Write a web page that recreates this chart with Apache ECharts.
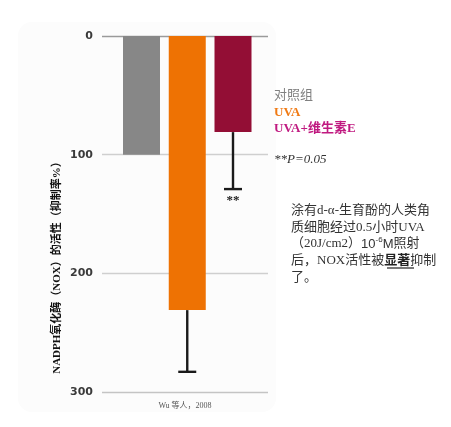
<!DOCTYPE html>
<html>
<head>
<meta charset="utf-8">
<script src="https://cdn.jsdelivr.net/npm/echarts@6/dist/echarts.min.js"></script>
<style>
  html, body { margin: 0; padding: 0; background: #fff; }
  #main { width: 451px; height: 427px; }
</style>
</head>
<body>
<div id="main"></div>
<script>
// 数据
var categories = ['对照组', 'UVA', 'UVA+维生素E']
var values = [100, 231, 81]
var errorTops = [null, 283, 129]
var errorMarks = ['', '', '**']
var barColors = ['#878787', '#ee7203', '#930e35']
var yTicks = [0, 100, 200, 300]

var chart = echarts.init(document.getElementById('main'))

var barData = values.map(function (v, i) {
  return { value: [i + 1, v], itemStyle: { color: barColors[i] } }
})
var errData = []
values.forEach(function (v, i) {
  if (errorTops[i] !== null) errData.push([i + 1, v, errorTops[i], errorMarks[i]])
})

var serif = "'Liberation Serif', 'Noto Sans CJK SC', serif"
var cjk = "'Liberation Serif', 'Noto Sans CJK SC', sans-serif"

var option = {
  animation: false,
  grid: { left: 102, right: 183, top: 36, bottom: 35 },
  xAxis: {
    type: 'value',
    min: 0.1366,
    max: 3.765,
    show: false
  },
  yAxis: {
    type: 'value',
    inverse: true,
    min: yTicks[0],
    max: yTicks[yTicks.length - 1],
    interval: 100,
    axisLine: { show: false },
    axisTick: { show: false },
    axisLabel: {
      margin: 9,
      color: '#3a3a3a',
      fontWeight: 'bold',
      fontSize: 11,
      fontFamily: "'DejaVu Sans', sans-serif"
    },
    splitLine: { lineStyle: { color: ['#9a9a9a', '#cfcfcf', '#cfcfcf', '#c4c4c4'], width: 1.3 } }
  },
  series: [
    {
      type: 'bar',
      barWidth: 37,
      data: barData,
      z: 2
    },
    {
      type: 'custom',
      z: 3,
      data: errData,
      renderItem: function (params, api) {
        var x = api.value(0)
        var p0 = api.coord([x, api.value(1)])
        var p1 = api.coord([x, api.value(2)])
        var half = 9
        var children = [
          { type: 'line', shape: { x1: p0[0], y1: p0[1], x2: p1[0], y2: p1[1] }, style: { stroke: '#1a1a1a', lineWidth: 2.4 } },
          { type: 'line', shape: { x1: p1[0] - half, y1: p1[1], x2: p1[0] + half, y2: p1[1] }, style: { stroke: '#1a1a1a', lineWidth: 2.4 } }
        ]
        var mark = api.value(3)
        if (mark) {
          children.push({
            type: 'text',
            x: p1[0],
            y: p1[1] + 5,
            style: { text: mark, fill: '#222', font: 'bold 13px ' + serif, align: 'center', verticalAlign: 'top' }
          })
        }
        return { type: 'group', children: children }
      }
    }
  ],
  graphic: [
    {
      type: 'rect', z: -10, silent: true,
      shape: { x: 18, y: 22, width: 258, height: 390, r: 14 },
      style: { fill: '#fcfcfc' }
    },
    {
      type: 'text', x: 57, y: 265, rotation: Math.PI / 2,
      style: {
        text: 'NADPH氧化酶（NOX）的活性（抑制率%）',
        font: 'bold 11px ' + cjk, fill: '#111',
        align: 'center', verticalAlign: 'middle'
      }
    },
    {
      type: 'text', x: 185, y: 406,
      style: { text: 'Wu 等人，2008', font: '8px ' + serif, fill: '#555', align: 'center', verticalAlign: 'middle' }
    },
    {
      type: 'text', x: 274, y: 96,
      style: { text: categories[0], font: '13px ' + cjk, fill: '#808080', verticalAlign: 'middle' }
    },
    {
      type: 'text', x: 274, y: 113,
      style: { text: categories[1], font: 'bold 13px ' + serif, fill: '#f07a14', verticalAlign: 'middle' }
    },
    {
      type: 'text', x: 274, y: 129,
      style: { text: categories[2], font: 'bold 13px ' + cjk, fill: '#c01a80', verticalAlign: 'middle' }
    },
    {
      type: 'text', x: 274, y: 160,
      style: { text: '**P=0.05', font: 'italic 13px ' + serif, fill: '#333', verticalAlign: 'middle' }
    },
    {
      type: 'text', x: 291, y: 202,
      style: {
        text: '涂有d-α-生育酚的人类角\n质细胞经过0.5小时UVA\n（20J/cm2）{s|10}{sup|-6}{s|M}照射\n后，NOX活性被{b|显著}抑制\n了。',
        font: '13px ' + cjk, fill: '#333', lineHeight: 16.8,
        rich: {
          s: { fontSize: 13, fontFamily: "'Liberation Sans', sans-serif", fill: '#333', lineHeight: 16.8 },
          sup: { fontSize: 8, fontFamily: "'Liberation Sans', sans-serif", fill: '#333', verticalAlign: 'top', lineHeight: 16.8 },
          b: { fontWeight: 'bold', fontSize: 13, fontFamily: cjk, fill: '#222' }
        }
      }
    },
    {
      type: 'line', shape: { x1: 387, y1: 268, x2: 414, y2: 268 },
      style: { stroke: '#222', lineWidth: 1.2 }
    }
  ]
}

chart.setOption(option)
</script>
</body>
</html>
